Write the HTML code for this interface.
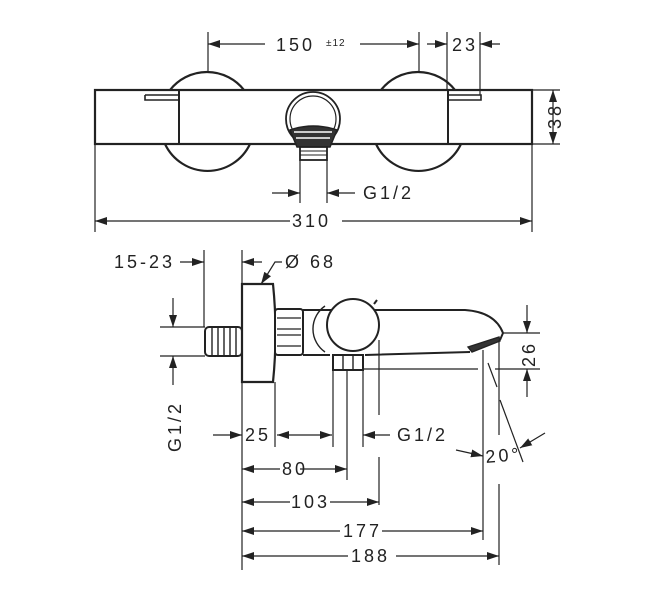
<!DOCTYPE html>
<html><head><meta charset="utf-8"><style>
html,body{margin:0;padding:0;background:#fff;}
svg{display:block}
text{font-family:"Liberation Sans",sans-serif;fill:#222;font-size:18px;letter-spacing:3px}
</style></head><body>
<svg width="652" height="600" viewBox="0 0 652 600" xmlns="http://www.w3.org/2000/svg">
<defs>
<marker id="a" viewBox="0 0 12 8" refX="12" refY="4" markerWidth="12" markerHeight="8" markerUnits="userSpaceOnUse" orient="auto"><path d="M0,0L12,4L0,8z" fill="#222"/></marker>
</defs>
<g stroke="#222" fill="none" stroke-width="1.2">
<path d="M170,90 A47,47 0 0 1 244,90" stroke-width="2.2"/>
<path d="M165,144 A47,47 0 0 0 250,144" stroke-width="2.2"/>
<path d="M381,90 A47,47 0 0 1 455,90" stroke-width="2.2"/>
<path d="M376,144 A47,47 0 0 0 461,144" stroke-width="2.2"/>
<rect x="95" y="90" width="437" height="54" fill="#fff" stroke-width="2.2"/>
<line x1="179" y1="90" x2="179" y2="144" stroke-width="2"/>
<line x1="448" y1="90" x2="448" y2="144" stroke-width="2"/>
<path d="M145,95 L145,100 L179,100 M179,95 L145,95" stroke-width="1.6"/>
<path d="M448,95 L481,95 L481,100 L448,100" stroke-width="1.6"/>
<circle cx="313" cy="119" r="27" stroke-width="1.8"/>
<circle cx="313" cy="119" r="23" stroke-width="1.2"/>
<path d="M290,130 Q313,122 337,130 L330,147 L297,147 Z" fill="#333" stroke-width="1.5"/>
<path d="M294,132 L332,132 M296,138 L330,138" stroke="#fff" stroke-width="1.5"/>
<rect x="300" y="147" width="27" height="13" fill="#fff" stroke-width="1.8"/>
<path d="M300,151 H327 M300,155 H327" stroke-width="1"/>
<line x1="208" y1="32" x2="208" y2="72"/>
<line x1="419" y1="32" x2="419" y2="72"/>
<line x1="447" y1="32" x2="447" y2="90"/>
<line x1="480" y1="32" x2="480" y2="95"/>
<line x1="532" y1="144" x2="532" y2="232"/>
<line x1="95" y1="144" x2="95" y2="232"/>
<line x1="532" y1="90" x2="560" y2="90"/>
<line x1="532" y1="144" x2="560" y2="144"/>
<line x1="300" y1="160" x2="300" y2="203"/>
<line x1="327" y1="160" x2="327" y2="203"/>
<line x1="265" y1="44" x2="208" y2="44" marker-end="url(#a)"/>
<line x1="360" y1="44" x2="419" y2="44" marker-end="url(#a)"/>
<line x1="427" y1="44" x2="447" y2="44" marker-end="url(#a)"/>
<line x1="500" y1="44" x2="480" y2="44" marker-end="url(#a)"/>
<line x1="553" y1="117" x2="553" y2="90" marker-end="url(#a)"/>
<line x1="553" y1="117" x2="553" y2="144" marker-end="url(#a)"/>
<line x1="272" y1="193" x2="300" y2="193" marker-end="url(#a)"/>
<line x1="355" y1="193" x2="327" y2="193" marker-end="url(#a)"/>
<line x1="290" y1="221" x2="95" y2="221" marker-end="url(#a)"/>
<line x1="342" y1="221" x2="532" y2="221" marker-end="url(#a)"/>

<rect x="205" y="327" width="37" height="29" rx="4" fill="#fff" stroke-width="2"/>
<path d="M212,328 V355 M218,328 V355 M224,328 V355 M230,328 V355 M236,328 V355" stroke-width="1.4"/>
<path d="M242,284 L273,284 Q278,333 273,382 L242,382 Z" fill="#fff" stroke-width="2.2"/>
<rect x="275" y="309" width="28" height="46" rx="3" fill="#fff" stroke-width="2"/>
<path d="M277,318 H301 M277,329 H301 M277,335 H301 M277,346 H301" stroke-width="1.2"/>
<path d="M303,310 L465,310 Q495,312 503,333 L500,340 M303,355 L330,355 M365,355 L470,352" stroke-width="2"/>
<path d="M468,347 L499,337 L500,341 L472,352 Z" fill="#333" stroke-width="1.4"/>
<path d="M325,306 A28,28 0 0 0 325,352" stroke-width="1.4"/>
<circle cx="353" cy="325" r="26" fill="#fff" stroke-width="2"/>
<path d="M374,304 L377,300" stroke-width="2"/>
<rect x="333" y="355" width="30" height="15" fill="#fff" stroke-width="2"/>
<path d="M343,356 V369 M353,356 V369" stroke-width="1.4"/>
<line x1="242" y1="250" x2="242" y2="570"/>
<line x1="204" y1="250" x2="204" y2="327"/>
<line x1="275" y1="382" x2="275" y2="447"/>
<line x1="333" y1="370" x2="333" y2="447"/>
<line x1="347" y1="370" x2="347" y2="480"/>
<line x1="363" y1="370" x2="363" y2="447"/>
<line x1="379" y1="340" x2="379" y2="415"/>
<line x1="379" y1="457" x2="379" y2="505"/>
<line x1="483" y1="350" x2="483" y2="540"/>
<line x1="499" y1="340" x2="499" y2="435"/>
<line x1="499" y1="484" x2="499" y2="565"/>
<line x1="160" y1="327" x2="205" y2="327"/>
<line x1="160" y1="356" x2="205" y2="356"/>
<line x1="503" y1="333" x2="540" y2="333"/>
<line x1="363" y1="369" x2="478" y2="369"/>
<line x1="495" y1="369" x2="540" y2="369"/>
<line x1="488" y1="363" x2="497" y2="387"/>
<line x1="500" y1="400" x2="523" y2="462"/>
<line x1="180" y1="262" x2="204" y2="262" marker-end="url(#a)"/>
<line x1="262" y1="262" x2="242" y2="262" marker-end="url(#a)"/>
<path d="M282,262 L275,262 L262,283" />
<line x1="267" y1="275" x2="261" y2="284" marker-end="url(#a)"/>
<line x1="173" y1="298" x2="173" y2="327" marker-end="url(#a)"/>
<line x1="173" y1="385" x2="173" y2="356" marker-end="url(#a)"/>
<line x1="527" y1="305" x2="527" y2="333" marker-end="url(#a)"/>
<line x1="527" y1="397" x2="527" y2="369" marker-end="url(#a)"/>
<line x1="213" y1="435" x2="242" y2="435" marker-end="url(#a)"/>
<line x1="305" y1="435" x2="277" y2="435" marker-end="url(#a)"/>
<line x1="305" y1="435" x2="332" y2="435" marker-end="url(#a)"/>
<line x1="390" y1="435" x2="363" y2="435" marker-end="url(#a)"/>
<line x1="456" y1="450" x2="483" y2="456" marker-end="url(#a)"/>
<line x1="545" y1="433" x2="520" y2="448" marker-end="url(#a)"/>
<line x1="280" y1="469" x2="242" y2="469" marker-end="url(#a)"/>
<line x1="300" y1="469" x2="347" y2="469" marker-end="url(#a)"/>
<line x1="290" y1="502" x2="242" y2="502" marker-end="url(#a)"/>
<line x1="330" y1="502" x2="379" y2="502" marker-end="url(#a)"/>
<line x1="340" y1="531" x2="242" y2="531" marker-end="url(#a)"/>
<line x1="382" y1="531" x2="483" y2="531" marker-end="url(#a)"/>
<line x1="348" y1="556" x2="242" y2="556" marker-end="url(#a)"/>
<line x1="396" y1="556" x2="499" y2="556" marker-end="url(#a)"/>
</g>
<g>
<text x="276" y="51">150</text>
<text x="326" y="46" style="font-size:10px;letter-spacing:1px">±12</text>
<text x="452" y="51">23</text>
<text transform="translate(561,129) rotate(-90)">38</text>
<text x="363" y="199">G1/2</text>
<text x="292" y="227">310</text>
<text x="114" y="268">15-23</text>
<text x="285" y="268">Ø 68</text>
<text transform="translate(181,452) rotate(-90)">G1/2</text>
<text transform="translate(535,367) rotate(-90)">26</text>
<text x="245" y="441">25</text>
<text x="397" y="441">G1/2</text>
<text x="486" y="463" transform="rotate(-5 486 463)">20°</text>
<text x="282" y="475">80</text>
<text x="291" y="508">103</text>
<text x="343" y="537">177</text>
<text x="351" y="562">188</text>
</g>
</svg>
</body></html>
